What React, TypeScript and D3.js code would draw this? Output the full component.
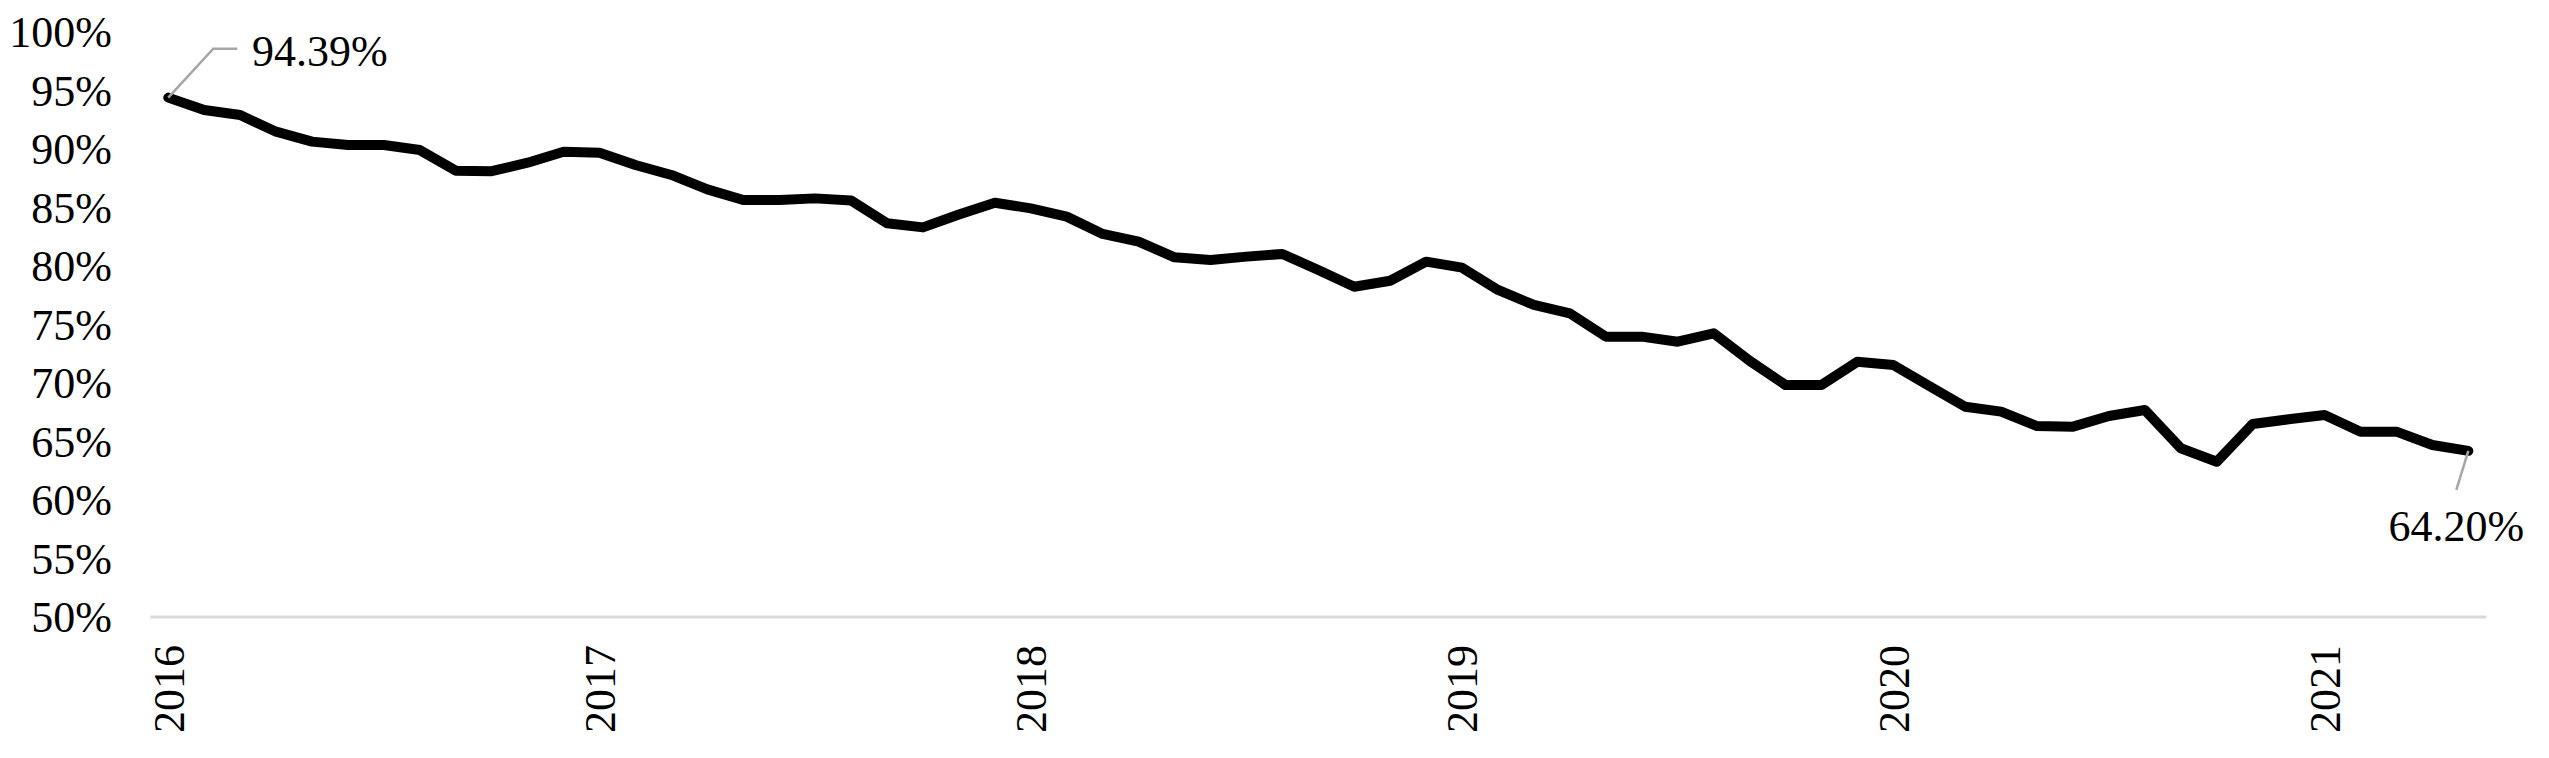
import React from "react";
import * as d3 from "d3";

// monthly share, Jan 2016 .. May 2021 (percent)
const values2016 = [94.39, 93.33, 92.9, 91.48, 90.63, 90.34, 90.34, 89.91, 88.15, 88.1, 88.83, 89.77];
const values2017 = [89.68, 88.63, 87.78, 86.55, 85.64, 85.64, 85.78, 85.6, 83.65, 83.3, 84.4, 85.41];
const values2018 = [84.93, 84.22, 82.74, 82.08, 80.74, 80.51, 80.8, 81.03, 79.66, 78.23, 78.74, 80.37];
const values2019 = [79.86, 77.95, 76.67, 75.95, 73.96, 73.96, 73.53, 74.25, 71.9, 69.83, 69.83, 71.82];
const values2020 = [71.54, 69.74, 67.97, 67.55, 66.32, 66.27, 67.18, 67.69, 64.42, 63.27, 66.5, 66.9];
const values2021 = [67.26, 65.84, 65.84, 64.7, 64.2];

const years = [2016, 2017, 2018, 2019, 2020, 2021];
const yTicks = [50, 55, 60, 65, 70, 75, 80, 85, 90, 95, 100];
const firstLabel = "94.39%";
const lastLabel = "64.20%";

const width = 2549, height = 758;
const font = "'Liberation Serif', 'Times New Roman', serif";

export default function App() {
  const values = [...values2016, ...values2017, ...values2018, ...values2019, ...values2020, ...values2021];
  const months = d3.timeMonths(new Date(2016, 0, 1), new Date(2016, values.length, 1));
  const keys = months.map(d3.timeFormat("%Y-%m"));

  const x = d3.scalePoint<string>().domain(keys).range([150.3, 2486.3]).padding(0.5);
  const y = d3.scaleLinear().domain([50, 100]).range([617, 32]);

  const line = d3.line<number>()
    .x((_, i) => x(keys[i])!)
    .y(d => y(d));

  const x0 = x(keys[0])!, y0 = y(values[0]);
  const xn = x(keys[keys.length - 1])!, yn = y(values[values.length - 1]);

  return (
    <svg width={width} height={height} style={{ position: "absolute", left: 0, top: 0, display: "block" }}
      fontFamily={font}>
      <rect width={width} height={height} fill="#fff" />
      {yTicks.map(t => (
        <text key={t} x={112} y={y(t)} dy="0.35em" textAnchor="end" fontSize={44} fill="#000">{t}%</text>
      ))}
      <line x1={x.range()[0]} x2={x.range()[1]} y1={y(50)} y2={y(50)} stroke="#d9d9d9" strokeWidth={3} />
      {years.map(yr => {
        const cx = x(`${yr}-01`)!;
        return (
          <text key={yr} transform={`translate(${cx},645) rotate(-90)`} dy="0.35em" textAnchor="end"
            fontSize={44} fill="#000">{yr}</text>
        );
      })}
      <path d={line(values)!} fill="none" stroke="#000" strokeWidth={10} strokeLinejoin="round" strokeLinecap="round" />
      {/* data labels with leader lines */}
      <polyline points={`${x0},${y0} ${x0 + 45},${y0 - 49} ${x0 + 69},${y0 - 49}`} fill="none" stroke="#a6a6a6" strokeWidth={2.5} />
      <text x={252} y={y0 - 47} dy="0.35em" fontSize={44} fill="#000">{firstLabel}</text>
      <line x1={xn} y1={yn} x2={xn - 12} y2={yn + 39} stroke="#a6a6a6" strokeWidth={2.5} />
      <text x={xn - 12} y={yn + 90} textAnchor="middle" fontSize={44} fill="#000">{lastLabel}</text>
    </svg>
  );
}
